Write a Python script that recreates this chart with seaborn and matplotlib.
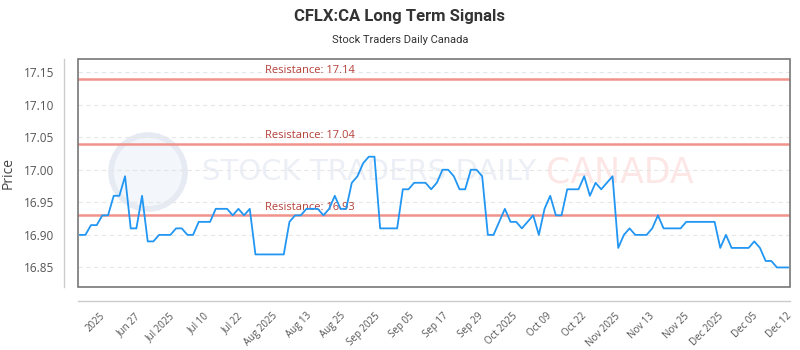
import matplotlib.pyplot as plt
import numpy as np
import pandas as pd
import seaborn as sns
from matplotlib.patches import Circle, Rectangle

# ---- data (daily closes, oldest first) ----
prices = [
    16.90, 16.90, 16.915, 16.915, 16.93, 16.93, 16.96, 16.96, 16.99, 16.91,
    16.91, 16.96, 16.89, 16.89, 16.90, 16.90, 16.90, 16.91, 16.91, 16.90,
    16.90, 16.92, 16.92, 16.92, 16.94, 16.94, 16.94, 16.93, 16.94, 16.93,
    16.94, 16.87, 16.87, 16.87, 16.87, 16.87, 16.87, 16.92, 16.93, 16.93,
    16.94, 16.94, 16.94, 16.93, 16.94, 16.96, 16.94, 16.94, 16.98, 16.99,
    17.01, 17.02, 17.02, 16.91, 16.91, 16.91, 16.91, 16.97, 16.97, 16.98,
    16.98, 16.98, 16.97, 16.98, 17.00, 17.00, 16.99, 16.97, 16.97, 17.00,
    17.00, 16.99, 16.90, 16.90, 16.92, 16.94, 16.92, 16.92, 16.91, 16.92,
    16.93, 16.90, 16.94, 16.96, 16.93, 16.93, 16.97, 16.97, 16.97, 16.99,
    16.96, 16.98, 16.97, 16.98, 16.99, 16.88, 16.90, 16.91, 16.90, 16.90,
    16.90, 16.91, 16.93, 16.91, 16.91, 16.91, 16.91, 16.92, 16.92, 16.92,
    16.92, 16.92, 16.92, 16.88, 16.90, 16.88, 16.88, 16.88, 16.88, 16.89,
    16.88, 16.86, 16.86, 16.85, 16.85, 16.85,
]
resistance = [17.14, 17.04, 16.93]
tick_labels = [
    "2025", "Jun 27", "Jul 2025", "Jul 10", "Jul 22", "Aug 2025", "Aug 13",
    "Aug 25", "Sep 2025", "Sep 05", "Sep 17", "Sep 29", "Oct 2025", "Oct 09",
    "Oct 22", "Nov 2025", "Nov 13", "Nov 25", "Dec 2025", "Dec 05", "Dec 12",
]
y_ticks = [16.85, 16.90, 16.95, 17.00, 17.05, 17.10, 17.15]

df = pd.DataFrame({"day": np.arange(len(prices)), "price": prices})

sns.set_theme(style="white")
plt.rcParams["font.family"] = ["Open Sans", "DejaVu Sans"]

fig = plt.figure(figsize=(8, 3.5), dpi=100)
ax = fig.add_axes([0.0975, 0.18, 0.89, 0.6514])
ax.set_facecolor("none")
ax.set_zorder(1)  # keep the watermark texts underneath

# outer axis lines pushed outward (do this first: it rebuilds the ticks)
for side in ["top", "right"]:
    ax.spines[side].set_visible(False)
for side in ["left", "bottom"]:
    ax.spines[side].set_position(("outward", 10))
    ax.spines[side].set_color("#cccccc")
    ax.spines[side].set_linewidth(1)

# ---- faint watermark behind the data ----
ax.add_patch(Circle((1.48, 1.78), 0.37, transform=fig.dpi_scale_trans,
                    facecolor="#f3f6fa", edgecolor="#e6ebf3", lw=4,
                    clip_on=False, zorder=0))
fig.text(0.252, 0.508, "STOCK TRADERS DAILY", fontsize=21, color="#eceff5",
         family="DejaVu Sans", va="center", ha="left", zorder=0)
fig.text(0.682, 0.508, "CANADA", fontsize=25, color="#fde6e6",
         family="DejaVu Sans", va="center", ha="left", zorder=0)

for lvl in resistance:
    ax.axhline(lvl, color="#f1938b", lw=1.8, zorder=2)
    ax.text(0.263, lvl + 0.004, f"Resistance: {lvl:.2f}", color="#b5403a",
            fontsize=8, transform=ax.get_yaxis_transform(), va="bottom")

sns.lineplot(data=df, x="day", y="price", color="#2196f3", lw=1.3, ax=ax, zorder=3)

ax.set_xlim(-0.3, len(prices) - 0.7)
ax.set_ylim(16.82, 17.17)
ax.tick_params(axis="both", length=0, labelcolor="#555555")
ax.tick_params(axis="y", pad=7, labelsize=8.5)
ax.tick_params(axis="x", pad=7, labelsize=7)
ax.set_yticks(y_ticks)
ax.set_yticklabels([f"{v:.2f}" for v in y_ticks])
ax.set_xticks(np.linspace(3.6, len(prices) - 1.3, len(tick_labels)))
ax.set_xticklabels(tick_labels, rotation=45, ha="right", va="top",
                   rotation_mode="anchor")
ax.yaxis.grid(True, color="#e6e6e6", lw=0.8, ls=(0, (4, 3)))
ax.xaxis.grid(False)
ax.set_xlabel("")
ax.set_ylabel("Price", fontsize=10, color="#444444", labelpad=6)

# inner frame drawn as a box
ax.add_patch(Rectangle((0, 0), 1, 1, transform=ax.transAxes, fill=False,
                       edgecolor="#777777", lw=1.2, clip_on=False, zorder=4))

fig.text(0.5, 0.953, "CFLX:CA Long Term Signals", ha="center", va="center",
         fontsize=12, fontweight="bold", color="#333333", family=["Roboto", "DejaVu Sans"])
fig.text(0.5, 0.885, "Stock Traders Daily Canada", ha="center", va="center",
         fontsize=8, color="#333333", family=["Roboto", "DejaVu Sans"])

fig.savefig("out.png", dpi=100)
